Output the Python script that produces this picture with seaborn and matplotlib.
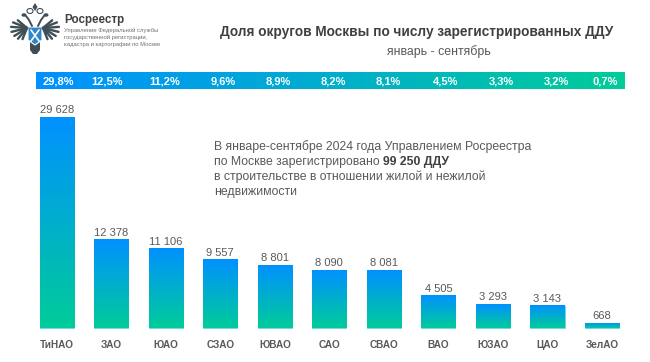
"""
Доля округов Москвы по числу зарегистрированных ДДУ, январь - сентябрь.
Столбцы с вертикальным градиентом, сверху полоса с долями.
"""
import numpy as np
import pandas as pd
import matplotlib.pyplot as plt
import seaborn as sns
from matplotlib.colors import LinearSegmentedColormap
from matplotlib.patches import Polygon, Ellipse

W, H = 650, 362

OKRUGA = ["ТиНАО", "ЗАО", "ЮАО", "СЗАО", "ЮВАО", "САО", "СВАО", "ВАО", "ЮЗАО", "ЦАО", "ЗелАО"]
DDU = [29628, 12378, 11106, 9557, 8801, 8090, 8081, 4505, 3293, 3143, 668]
DOLI = ["29,8%", "12,5%", "11,2%", "9,6%", "8,9%", "8,2%", "8,1%", "4,5%", "3,3%", "3,2%", "0,7%"]
DOLI_X = [58, 107, 165, 223, 278, 333, 388, 446, 501, 556, 605]

GREY = "#595959"
grad = LinearSegmentedColormap.from_list("ros", ["#0091ff", "#00cc99"])


def px_axes(fig, x0, y0, x1, y1):
    """Оси по пикселям картинки (y сверху вниз)."""
    return fig.add_axes([x0 / W, 1 - y1 / H, (x1 - x0) / W, (y1 - y0) / H])


def fmt(v):
    return f"{v:,}".replace(",", " ")


sns.set_theme(style="white")
plt.rcParams["font.family"] = ["Liberation Sans", "DejaVu Sans"]

fig = plt.figure(figsize=(W / 100, H / 100), dpi=100, facecolor="white")

# Столбцы
ax = px_axes(fig, 29.4, 117, 629.3, 328)
df = pd.DataFrame({"okrug": OKRUGA, "ddu": DDU})
sns.barplot(data=df, x="okrug", y="ddu", width=0.624, color="#0091ff", ax=ax)
ax.set_xlim(-0.5, 10.5)
ax.set_ylim(0, max(DDU))
ax.set_xlabel("")
ax.set_ylabel("")
ax.set_yticks([])
ax.tick_params(axis="x", length=0, pad=9, labelsize=7.2, labelcolor=GREY)
for lab in ax.get_xticklabels():
    lab.set_fontweight("bold")
sns.despine(ax=ax, left=True, bottom=True)

g = np.linspace(0, 1, 256).reshape(-1, 1)
for bar, v in zip(ax.patches, DDU):
    b = bar.get_bbox()
    bar.set_facecolor("none")
    bar.set_edgecolor("#55d0f0")
    bar.set_linewidth(0.6)
    bar.set_clip_on(False)
    ax.imshow(g, cmap=grad, aspect="auto", zorder=1,
              extent=(b.x0, b.x1, b.y0, b.y1), clip_on=False)
    ax.annotate(fmt(v), (b.x0 + b.width / 2, v), xytext=(0, 1.5), textcoords="offset points",
                ha="center", va="bottom", fontsize=8, color=GREY, annotation_clip=False)
ax.set_xlim(-0.5, 10.5)
ax.set_ylim(0, max(DDU))

# Полоса с долями
strip = px_axes(fig, 36, 71.5, 625, 89.5)
strip.imshow(np.linspace(0, 1, 256).reshape(1, -1), cmap=grad, aspect="auto",
             extent=(36, 625, 0, 1))
strip.axis("off")
for x, t in zip(DOLI_X, DOLI):
    strip.text(x, 0.47, t, ha="center", va="center", fontsize=8, color="white", fontweight="bold")

# Заголовки
fig.text(417 / W, 1 - 32 / H, "Доля округов Москвы по числу зарегистрированных ДДУ",
         ha="center", va="center", fontsize=9.85, fontweight="bold", color="#404040")
fig.text(439 / W, 1 - 52 / H, "январь - сентябрь", ha="center", va="center",
         fontsize=8.9, color=GREY)

# Подпись в центре
txt = [("В январе-сентябре 2024 года Управлением Росреестра", 147),
       ("по Москве зарегистрировано", 162),
       ("в строительстве в отношении жилой и нежилой", 177),
       ("недвижимости", 192)]
for t, y in txt:
    fig.text(214 / W, 1 - y / H, t, ha="left", va="center", fontsize=8.85, color=GREY)
fig.text(383 / W, 1 - 162 / H, "99 250 ДДУ", ha="left", va="center", fontsize=8.85,
         color="#404040", fontweight="bold")

# Логотип
fig.text(64 / W, 1 - 20 / H, "Росреестр", ha="left", va="center", fontsize=8.4,
         fontweight="bold", color="#404040")
for t, y in zip(["Управление Федеральной службы", "государственной регистрации,",
                 "кадастра и картографии по Москве"], [30.5, 37.5, 44.5]):
    fig.text(64 / W, 1 - y / H, t, ha="left", va="center", fontsize=4.25, color="#707070")

logo = px_axes(fig, 5, 0, 65, 60)
logo.set_xlim(5, 65)
logo.set_ylim(60, 0)
logo.axis("off")
dark = "#3f4f55"
for s in (-1, 1):
    # крыло - перья расходятся от плеча вниз и наружу
    for ang, ln in zip([-40, -22, -4, 14, 32, 50, 68], [12, 15, 16, 16, 15, 14, 12]):
        a = np.radians(ang)
        logo.plot([35 + s * 8, 35 + s * (8 + ln * np.cos(a))],
                  [28, 28 + ln * np.sin(a)], color=dark, lw=1.7, solid_capstyle="round")
    # шея и голова
    logo.plot([35 + s * 3, 35 + s * 6, 35 + s * 9], [26, 20, 16], color=dark, lw=1.4)
    logo.add_patch(Ellipse((35 + s * 11, 15), 5, 3.5, fc=dark, ec="none"))
    logo.add_patch(Ellipse((35 + s * 5, 11), 6, 5, fc="none", ec=dark, lw=0.8))
logo.add_patch(Polygon([(30, 42), (40, 42), (40, 50), (37, 54), (33, 54), (30, 50)],
                       closed=True, fc=dark, ec="none"))
logo.add_patch(Polygon([(35, 3), (37.5, 7), (35, 11), (32.5, 7)], closed=True, fc=dark, ec="none"))
logo.add_patch(Polygon([(28, 27), (42, 27), (42, 40), (35, 45), (28, 40)], closed=True,
                       fc="#2f86c8", ec="white", lw=0.8))
logo.plot([31, 39], [30, 41], color="white", lw=1.2)
logo.plot([39, 31], [30, 41], color="white", lw=1.2)

fig.savefig("out.png", dpi=100)
